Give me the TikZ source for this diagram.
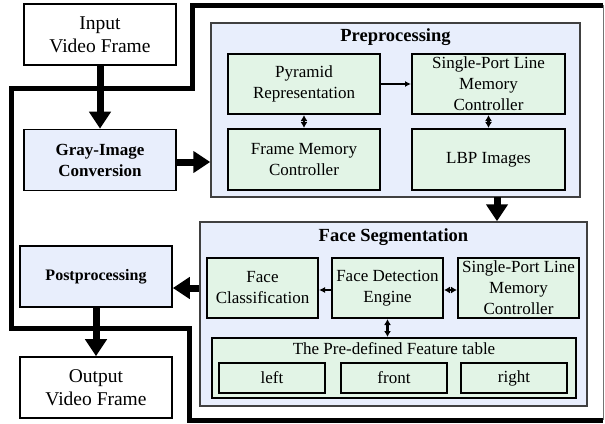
\documentclass[tikz,border=0pt]{standalone}
\usepackage{fontspec}
\setmainfont{Liberation Serif}
\usepackage{tikz}
\usetikzlibrary{arrows.meta}

\definecolor{blockblue}{RGB}{232,238,252}
\definecolor{blockgreen}{RGB}{226,244,230}

\tikzset{
  plainbox/.style={draw, line width=1.6pt, fill=white, align=center, inner sep=0pt,
    minimum width=152pt, minimum height=61pt, font=\fontsize{19.5}{23}\selectfont},
  graybox/.style={draw, line width=1.6pt, fill=blockblue, align=center, inner sep=0pt,
    minimum width=152pt, minimum height=61pt, font=\fontsize{17}{21}\selectfont\bfseries},
  groupbox/.style={draw=black!75, line width=1.4pt, fill=blockblue, inner sep=0pt},
  unitbox/.style={draw, line width=2pt, fill=blockgreen, align=center, inner sep=0pt,
    minimum height=60pt, font=\fontsize{17}{21}\selectfont},
  title/.style={font=\fontsize{18.5}{21}\selectfont\bfseries},
  bigarrow/.style={line width=7pt, -{Triangle[length=17pt,width=21pt]}},
  smallarrow/.style={line width=2pt, -{Latex[length=6pt,width=6pt]}},
  twoarrow/.style={line width=2.4pt, {Latex[length=6pt,width=7pt]}-{Latex[length=6pt,width=7pt]}}
}

\begin{document}
\begin{tikzpicture}[x=1pt,y=-1pt]
\useasboundingbox (0,0) rectangle (605,423);

% frame round the hardware part
\draw[line width=5pt, line join=miter] (603,5) -- (192,5) -- (192,88) -- (11,88) -- (11,328)
  -- (189,328) -- (189,420) -- (603,420);
\draw[black!55, line width=1pt] (603,5) -- (603,420);

% left column
\node[plainbox] (in) at (100,34.5) {Input\\Video Frame};
\node[graybox] (gray) at (100,160) {Gray-Image\\Conversion};
\node[graybox, font=\fontsize{16}{20}\selectfont\bfseries] (post) at (96,276.5) {Postprocessing};
\node[plainbox] (out) at (96,387.5) {Output\\Video Frame};

% preprocessing
\node[groupbox, minimum width=369pt, minimum height=174pt] (pre) at (395.5,110) {};
\node[title] (pretitle) at (395.5,37) {Preprocessing};
\node[unitbox, minimum width=152pt] (pyr) at (304,84) {Pyramid\\Representation};
\node[unitbox, minimum width=153pt] (lmc1) at (488.5,84) {Single-Port Line\\Memory\\Controller};
\node[unitbox, minimum width=152pt, minimum height=61pt] (fmc) at (304,159.5) {Frame Memory\\Controller};
\node[unitbox, minimum width=153pt, minimum height=61pt] (lbp) at (488.5,159.5) {LBP Images};

% face segmentation
\node[groupbox, minimum width=387pt, minimum height=184pt] (seg) at (393.5,314) {};
\node[title] (segtitle) at (393.5,237) {Face Segmentation};
\node[unitbox, minimum width=111pt] (fc) at (262.5,288) {Face\\Classification};
\node[unitbox, minimum width=111pt] (fde) at (387.5,288) {Face Detection\\Engine};
\node[unitbox, minimum width=121pt] (lmc2) at (518.5,288) {Single-Port Line\\Memory\\Controller};
\node[unitbox, minimum width=364pt] (tbl) at (394,368) {};
\node[font=\fontsize{17}{21}\selectfont] (tbltitle) at (394,349) {The Pre-defined Feature table};
\foreach \name/\x in {left/272, front/394, right/514}{
  \node[unitbox, minimum width=106pt, minimum height=30pt] (\name) at (\x,378) {\name};
}

\coordinate (drop) at (497,197);

% data flow
\draw[bigarrow] (in) -- (gray);
\draw[bigarrow] (gray.east |- 0,162) -- (pre.west |- 0,162);
\draw[bigarrow] (drop) -- (drop |- seg.north);
\draw[bigarrow] (seg.west |- 0,288) -- (post.east |- 0,288);
\draw[bigarrow] (post) -- (out);

\draw[smallarrow] (pyr) -- (lmc1);
\draw[twoarrow] (pyr) -- (fmc);
\draw[twoarrow] (lmc1) -- (lbp);
\draw[smallarrow] (fde.west |- 0,290) -- (fc.east |- 0,290);
\draw[twoarrow] (fde.east |- 0,290) -- (lmc2.west |- 0,290);
\draw[twoarrow] (fde) -- (fde |- tbl.north);
\end{tikzpicture}
\end{document}
